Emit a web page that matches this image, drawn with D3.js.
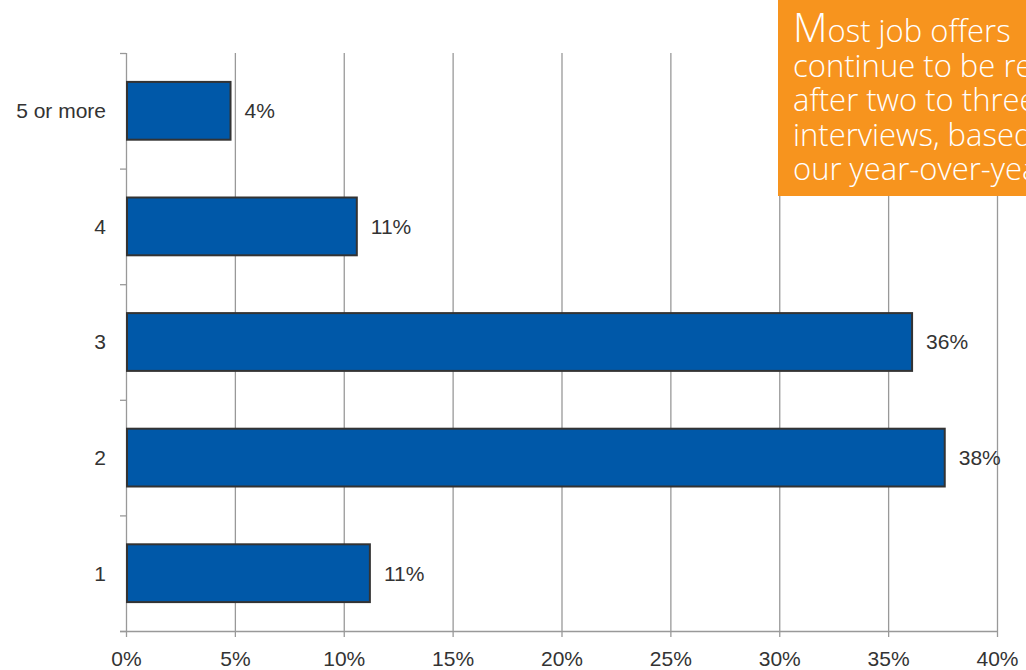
<!DOCTYPE html>
<html>
<head>
<meta charset="utf-8">
<script src="https://cdn.jsdelivr.net/npm/d3@7"></script>
<style>
  body { margin: 0; background: #fff; }
  svg text { font-family: "Liberation Sans", Arial, sans-serif; }
</style>
</head>
<body>
<script>
// chart data
var categories = ["5 or more", "4", "3", "2", "1"];
var values = [4.8, 10.6, 36.1, 37.6, 11.2];
var valueLabels = ["4%", "11%", "36%", "38%", "11%"];
var xTicks = [0, 5, 10, 15, 20, 25, 30, 35, 40];
var calloutLines = ["Most job offers", "continue to be re", "after two to three", "interviews, based", "our year-over-year"];

var svgWidth = 1026;
var svgHeight = 670;
var margin = { top: 53, right: 29, bottom: 39, left: 126 };
var width = svgWidth - margin.left - margin.right;
var height = svgHeight - margin.top - margin.bottom;

var svg = d3.select("body")
  .append("svg")
  .attr("width", svgWidth)
  .attr("height", svgHeight);

var chartGroup = svg.append("g")
  .attr("transform", `translate(${margin.left}, ${margin.top})`);

var xScale = d3.scaleLinear().domain([0, 40]).range([0, width]);
var yScale = d3.scaleBand().domain(categories).range([0, height]).paddingInner(0.5).paddingOuter(0.25);

// vertical gridlines
chartGroup.selectAll(".grid")
  .data(xTicks.slice(1))
  .enter()
  .append("line")
  .attr("x1", d => xScale(d) + 0.5)
  .attr("x2", d => xScale(d) + 0.5)
  .attr("y1", 0)
  .attr("y2", height)
  .attr("stroke", "#999")
  .attr("stroke-width", 1.3);

// y axis line + ticks between categories
var yTickPos = d3.range(categories.length + 1).map(i => i * height / categories.length);
chartGroup.append("line")
  .attr("x1", 0.5).attr("x2", 0.5)
  .attr("y1", 0).attr("y2", height)
  .attr("stroke", "#999").attr("stroke-width", 1.3);
chartGroup.selectAll(".ytick")
  .data(yTickPos)
  .enter()
  .append("line")
  .attr("x1", -6).attr("x2", 0)
  .attr("y1", d => d + 0.5).attr("y2", d => d + 0.5)
  .attr("stroke", "#999").attr("stroke-width", 1.3);

// x axis
var xAxis = d3.axisBottom(xScale)
  .tickValues(xTicks)
  .tickFormat(d => d + "%")
  .tickSize(6)
  .tickSizeOuter(0)
  .tickPadding(14);

var xAxisG = chartGroup.append("g")
  .attr("class", "x-axis")
  .attr("transform", `translate(0, ${height})`)
  .call(xAxis);
xAxisG.select(".domain").remove();
xAxisG.append("line")
  .attr("x1", -6).attr("x2", width + 1)
  .attr("y1", 0.5).attr("y2", 0.5)
  .attr("stroke", "#999").attr("stroke-width", 1.3);
xAxisG.selectAll(".tick line").attr("stroke", "#999").attr("stroke-width", 1.3);
xAxisG.selectAll(".tick text")
  .attr("fill", "#333")
  .style("font-size", "21px")
  .style("font-family", "Liberation Sans, Arial, sans-serif");

// category labels
chartGroup.selectAll(".cat")
  .data(categories)
  .enter()
  .append("text")
  .attr("x", -20)
  .attr("y", d => yScale(d) + yScale.bandwidth() / 2)
  .attr("dy", "0.35em")
  .attr("text-anchor", "end")
  .attr("fill", "#333")
  .style("font-size", "21px")
  .text(d => d);

// bars
chartGroup.selectAll(".bar")
  .data(values)
  .enter()
  .append("rect")
  .attr("class", "bar")
  .attr("x", xScale(0) + 1)
  .attr("y", (d, i) => yScale(categories[i]))
  .attr("width", d => xScale(d) - xScale(0) - 1)
  .attr("height", yScale.bandwidth())
  .attr("fill", "#0058A8")
  .attr("stroke", "#333")
  .attr("stroke-width", 2);

// value labels
chartGroup.selectAll(".val")
  .data(values)
  .enter()
  .append("text")
  .attr("x", d => xScale(d) + 14)
  .attr("y", (d, i) => yScale(categories[i]) + yScale.bandwidth() / 2)
  .attr("dy", "0.35em")
  .attr("fill", "#333")
  .style("font-size", "21px")
  .text((d, i) => valueLabels[i]);

// orange callout box
svg.append("rect")
  .attr("x", 778)
  .attr("y", 0)
  .attr("width", 260)
  .attr("height", 196)
  .attr("fill", "#F7941E");

calloutLines.forEach(function(line, i) {
  var t = svg.append("text")
    .attr("x", 793)
    .attr("y", 42 + i * 34.5)
    .attr("fill", "#fff")
    .style("font-family", "Open Sans, sans-serif")
    .style("font-weight", 300)
    .style("font-size", "31px");
  if (i === 0) {
    t.append("tspan").style("font-size", "40px").text(line.charAt(0));
    t.append("tspan").text(line.slice(1));
  } else {
    t.text(line);
  }
});
</script>
</body>
</html>
